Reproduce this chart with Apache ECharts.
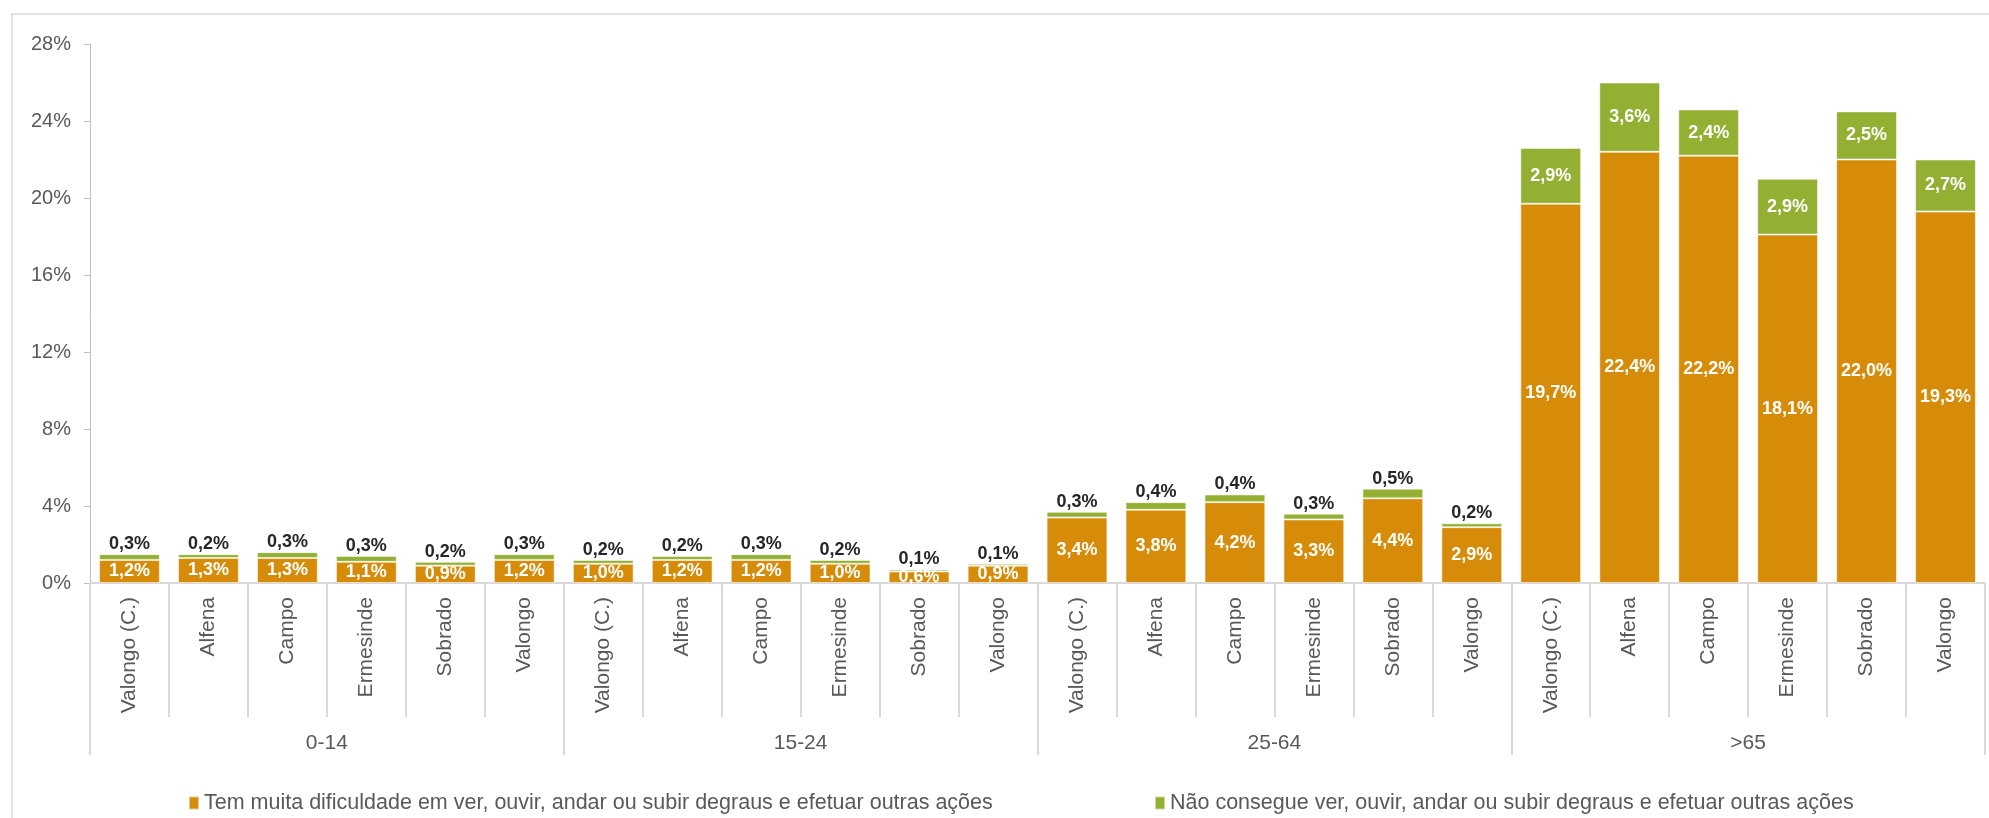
<!DOCTYPE html>
<html>
<head>
<meta charset="utf-8">
<script src="https://cdn.jsdelivr.net/npm/echarts@6/dist/echarts.min.js"></script>
<style>
html,body{margin:0;padding:0;background:#fff;}
#c{width:1989px;height:818px;}
</style>
</head>
<body>
<div id="c"></div>
<script>
const groups = ['0-14', '15-24', '25-64', '>65'];
const places = ['Valongo (C.)', 'Alfena', 'Campo', 'Ermesinde', 'Sobrado', 'Valongo'];
const categories = [].concat(places, places, places, places);
const muitaDificuldade = [
  1.2, 1.3, 1.3, 1.1, 0.9, 1.2,
  1.0, 1.2, 1.2, 1.0, 0.6, 0.9,
  3.4, 3.8, 4.2, 3.3, 4.4, 2.9,
  19.7, 22.4, 22.2, 18.1, 22.0, 19.3
];
const naoConsegue = [
  0.3, 0.2, 0.3, 0.3, 0.2, 0.3,
  0.2, 0.2, 0.3, 0.2, 0.1, 0.1,
  0.3, 0.4, 0.4, 0.3, 0.5, 0.2,
  2.9, 3.6, 2.4, 2.9, 2.5, 2.7
];
const yTicks = [0, 4, 8, 12, 16, 20, 24, 28];
const seriesNames = [
  'Tem muita dificuldade em ver, ouvir, andar ou subir degraus e efetuar outras ações',
  'Não consegue ver, ouvir, andar ou subir degraus e efetuar outras ações'
];

const FONT = "'Liberation Sans', Arial, sans-serif";
const fmt = v => v.toFixed(1).replace('.', ',') + '%';

const greenData = naoConsegue.map((v, i) => {
  const inside = i >= 18;
  return {
    value: v,
    label: inside
      ? { position: 'inside', color: '#ffffff' }
      : { position: 'top', color: '#262626', distance: 1 }
  };
});

const chart = echarts.init(document.getElementById('c'), null, { renderer: 'canvas' });
chart.setOption({
  animation: false,
  textStyle: { fontFamily: FONT },
  graphic: [{
    type: 'rect',
    z: -10,
    shape: { x: 12, y: 14, width: 2100, height: 1000 },
    style: { fill: 'none', stroke: '#d9d9d9', lineWidth: 1.5 }
  }],
  grid: { left: 90, right: 4, top: 44, bottom: 235, containLabel: false },
  legend: [
    {
      data: [seriesNames[0]], left: 188, top: 792, padding: 0,
      icon: 'rect', itemWidth: 10, itemHeight: 13,
      textStyle: { color: '#595959', fontSize: 21.5, fontFamily: FONT }
    },
    {
      data: [seriesNames[1]], left: 1154, top: 792, padding: 0,
      icon: 'rect', itemWidth: 10, itemHeight: 13,
      textStyle: { color: '#595959', fontSize: 21.5, fontFamily: FONT }
    }
  ],
  xAxis: [
    {
      type: 'category',
      data: categories,
      position: 'bottom',
      axisLine: { show: true, lineStyle: { color: '#d9d9d9', width: 2 } },
      axisTick: { show: true, interval: 0, length: 134, lineStyle: { color: '#d9d9d9', width: 2 } },
      axisLabel: { interval: 0, rotate: 90, margin: 14, fontSize: 21, color: '#595959', fontFamily: FONT }
    },
    {
      type: 'category',
      data: groups,
      position: 'bottom',
      offset: 0,
      axisLine: { show: false },
      axisTick: { show: true, interval: 0, length: 172, lineStyle: { color: '#d9d9d9', width: 2 } },
      axisLabel: { interval: 0, margin: 150, fontSize: 21, color: '#595959', fontFamily: FONT },
      splitLine: { show: false }
    }
  ],
  yAxis: {
    type: 'value',
    min: 0, max: 28, interval: 4,
    axisLine: { show: true, lineStyle: { color: '#bfbfbf', width: 1 } },
    axisTick: { show: true, length: 6, lineStyle: { color: '#bfbfbf' } },
    splitLine: { show: false },
    axisLabel: {
      margin: 19, fontSize: 20, color: '#595959', fontFamily: FONT,
      formatter: v => (yTicks.indexOf(v) >= 0 ? v + '%' : '')
    }
  },
  series: [
    {
      name: seriesNames[0],
      type: 'bar',
      stack: 'total',
      xAxisIndex: 0,
      barCategoryGap: '23%',
      data: muitaDificuldade,
      itemStyle: { color: '#D68C09', borderColor: 'rgba(255,255,255,0.55)', borderWidth: 1 },
      label: {
        show: true, position: 'inside', color: '#ffffff', fontWeight: 'bold',
        fontSize: 18, fontFamily: FONT,
        formatter: p => fmt(p.value)
      }
    },
    {
      name: seriesNames[1],
      type: 'bar',
      stack: 'total',
      xAxisIndex: 0,
      barCategoryGap: '23%',
      data: greenData,
      itemStyle: { color: '#93B033', borderColor: 'rgba(255,255,255,0.55)', borderWidth: 1 },
      label: {
        show: true, fontWeight: 'bold', fontSize: 18, fontFamily: FONT,
        formatter: p => fmt(p.value)
      }
    }
  ]
});
</script>
</body>
</html>
